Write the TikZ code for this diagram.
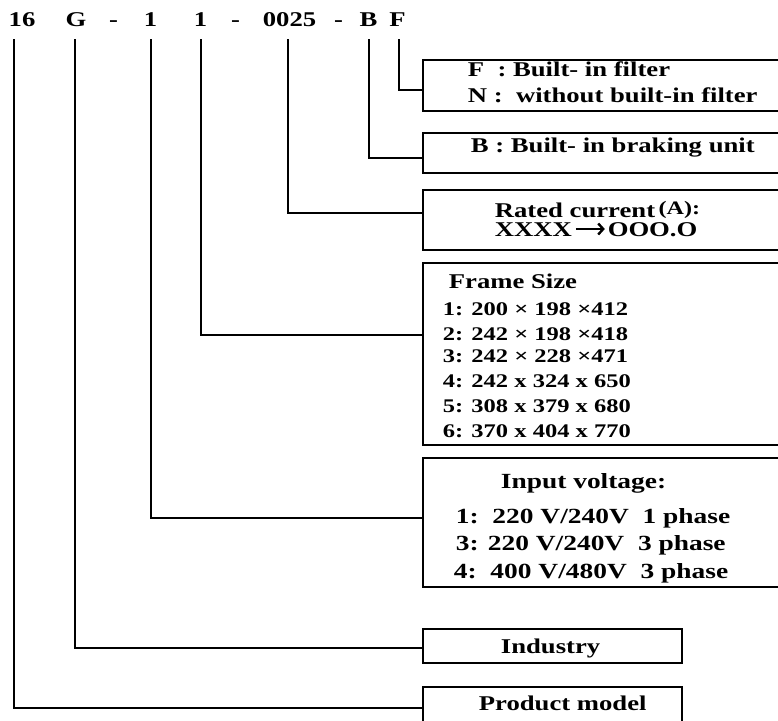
\documentclass[tikz,border=0pt]{standalone}
\usepackage{fontspec}
\usetikzlibrary{arrows.meta}
\setmainfont{Liberation Serif}[FakeStretch=1.27]
\begin{document}
\begin{tikzpicture}[x=1pt,y=-1pt,line width=1.8pt,
  toplbl/.style={inner sep=0,anchor=base,font=\fontsize{21}{21}\selectfont\bfseries},
  txt/.style={inner sep=0,anchor=base west,font=\fontsize{21}{21}\selectfont\bfseries},
  txts/.style={inner sep=0,anchor=base west,font=\fontsize{19.3}{19.3}\selectfont\bfseries},
  txtv/.style={inner sep=0,anchor=base west,font=\fontsize{21.6}{21.6}\selectfont\bfseries},
  codebox/.style={draw,rectangle,inner sep=0,outer sep=0,anchor=north west,line width=1.8pt},
  conn/.style={line width=1.8pt},
  valarrow/.style={line width=2.4pt,-{Straight Barb[length=5pt,width=11pt,line width=2.4pt]}}]
\useasboundingbox (0,0) rectangle (778,720);
\clip (0,0) rectangle (778,720);
% top code
\node[toplbl] (t16) at (22,26) {16};
\node[toplbl] (tG) at (76,26) {G};
\node[toplbl] (d1) at (113.5,26) {-};
\node[toplbl] (tV) at (150.5,26) {1};
\node[toplbl] (tS) at (200.5,26) {1};
\node[toplbl] (d2) at (235.5,26) {-};
\node[toplbl] (tR) at (289.5,26) {0025};
\node[toplbl] (d3) at (338.5,26) {-};
\node[toplbl] (tB) at (368.5,26) {B};
\node[toplbl] (tF) at (397.5,26) {F};
\coordinate (c16) at (14,39);
\coordinate (cG) at (75,39);
\coordinate (cV) at (151,39);
\coordinate (cS) at (201,39);
\coordinate (cR) at (288,39);
\coordinate (cB) at (369,39);
\coordinate (cF) at (399,39);
% boxes
\node[codebox,minimum width=420pt,minimum height=51pt] (bF) at (423,60) {};
\node[codebox,minimum width=420pt,minimum height=40pt] (bB) at (423,133) {};
\node[codebox,minimum width=420pt,minimum height=60pt] (bR) at (423,190) {};
\node[codebox,minimum width=420pt,minimum height=182pt] (bS) at (423,263) {};
\node[codebox,minimum width=420pt,minimum height=129pt] (bV) at (423,458) {};
\node[codebox,minimum width=259pt,minimum height=34pt] (bI) at (423,629) {};
\node[codebox,minimum width=259pt,minimum height=45pt] (bP) at (423,687) {};
% connectors
\draw[conn] (cF) |- ([yshift=-4.5pt]bF.west);
\draw[conn] (cB) |- ([yshift=-5pt]bB.west);
\draw[conn] (cR) |- ([yshift=7pt]bR.west);
\draw[conn] (cS) |- ([yshift=19pt]bS.west);
\draw[conn] (cV) |- ([yshift=4.5pt]bV.west);
\draw[conn] (cG) |- ([yshift=-2pt]bI.west);
\draw[conn] (c16) |- ([yshift=1.5pt]bP.west);
% texts
\node[txt] (f1) at (467,76) {F\ \ : Built- in filter};
\node[txt] (f2) at (467,102) {N :\ \ without built-in filter};
\node[txt] (b1) at (470,152) {B : Built- in braking unit};
\node[txt] (r1) at (494,217) {Rated current\,\raisebox{3pt}{\fontsize{19}{19}\selectfont(A):}};
\node[txt] (r2a) at (494,236) {XXXX};
\node[txt,anchor=base west] (r2b) at ([xshift=34pt]r2a.base east) {OOO.O};
\draw[valarrow] ([xshift=3pt,yshift=7pt]r2a.base east) -- ([xshift=-2pt,yshift=7pt]r2b.base west);
\node[txt] (s0) at (448,288) {Frame Size};
\node[txts] (s1) at (442,315) {1: 200 × 198 ×412};
\node[txts] (s2) at (442,340) {2: 242 × 198 ×418};
\node[txts] (s3) at (442,362) {3: 242 × 228 ×471};
\node[txts] (s4) at (442,387) {4: 242 x 324 x 650};
\node[txts] (s5) at (442,412) {5: 308 x 379 x 680};
\node[txts] (s6) at (442,437) {6: 370 x 404 x 770};
\node[txtv] (v0) at (500,488) {Input voltage:};
\node[txtv] (v1) at (455,523) {1:\ \ 220 V/240V\ \ 1 phase};
\node[txtv] (v2) at (455,550) {3: 220 V/240V\ \ 3 phase};
\node[txtv] (v3) at (453,578) {4:\ \ 400 V/480V\ \ 3 phase};
\node[txt] (i1) at (500,653) {Industry};
\node[txt] (p1) at (478,710) {Product model};
\end{tikzpicture}
\end{document}
